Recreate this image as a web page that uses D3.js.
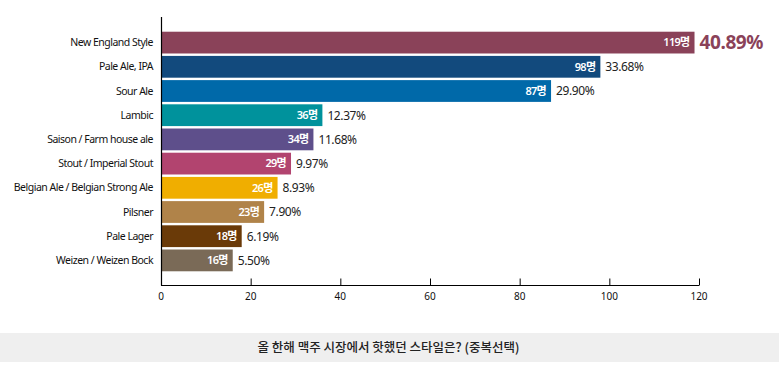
<!DOCTYPE html>
<html>
<head>
<meta charset="utf-8">
<script src="https://cdn.jsdelivr.net/npm/d3@7"></script>
<style>
  body { margin: 0; background: #fff; }
  text { font-family: "Noto Sans", "Noto Sans CJK KR", sans-serif; }
</style>
</head>
<body>
<div id="chart"></div>
<script>
var categories = ["New England Style", "Pale Ale, IPA", "Sour Ale", "Lambic", "Saison / Farm house ale",
                  "Stout / Imperial Stout", "Belgian Ale / Belgian Strong Ale", "Pilsner", "Pale Lager", "Weizen / Weizen Bock"];
var counts = [119, 98, 87, 36, 34, 29, 26, 23, 18, 16];
var percents = ["40.89%", "33.68%", "29.90%", "12.37%", "11.68%", "9.97%", "8.93%", "7.90%", "6.19%", "5.50%"];
var colors = ["#8a4259", "#124a7d", "#0069a9", "#00929c", "#5e4f8b", "#b2446f", "#f0ae00", "#b08349", "#6a3a08", "#7a6a57"];
var xTicks = [0, 20, 40, 60, 80, 100, 120];
var title = "올 한해 맥주 시장에서 핫했던 스타일은? (중복선택)";

var W = 779, H = 371;
var svg = d3.select("#chart").append("svg").attr("width", W).attr("height", H);

var x = d3.scaleLinear().domain([0, 120]).range([161, 699]);
var y = d3.scaleBand().domain(categories).range([30.5, 272.5]).paddingInner(0.1).paddingOuter(0.05);

// bars
svg.selectAll("rect.bar")
  .data(categories)
  .enter().append("rect")
  .attr("class", "bar")
  .attr("x", x(0))
  .attr("y", function (d) { return y(d); })
  .attr("width", function (d, i) { return x(counts[i]) - x(0); })
  .attr("height", y.bandwidth())
  .attr("fill", function (d, i) { return colors[i]; });

// count inside bar
svg.selectAll("text.cnt")
  .data(categories)
  .enter().append("text")
  .attr("x", function (d, i) { return x(counts[i]) - 5; })
  .attr("y", function (d) { return y(d) + y.bandwidth() / 2; })
  .attr("dy", "0.35em")
  .attr("text-anchor", "end")
  .attr("fill", "#fff")
  .style("font-size", "11px")
  .style("font-weight", "600")
  .style("letter-spacing", "-0.7px")
  .text(function (d, i) { return counts[i] + "명"; });

// percent after bar
svg.selectAll("text.pct")
  .data(categories)
  .enter().append("text")
  .attr("x", function (d, i) { return x(counts[i]) + 5; })
  .attr("y", function (d) { return y(d) + y.bandwidth() / 2; })
  .attr("dy", "0.36em")
  .attr("fill", function (d, i) { return i === 0 ? colors[0] : "#222"; })
  .style("font-size", function (d, i) { return i === 0 ? "19px" : "12px"; })
  .style("font-weight", function (d, i) { return i === 0 ? "bold" : "normal"; })
  .style("letter-spacing", "-0.4px")
  .text(function (d, i) { return percents[i]; });

// category labels
svg.selectAll("text.cat")
  .data(categories)
  .enter().append("text")
  .attr("x", 153)
  .attr("y", function (d) { return y(d) + y.bandwidth() / 2; })
  .attr("dy", "0.35em")
  .attr("text-anchor", "end")
  .attr("fill", "#111")
  .style("font-size", "10.5px")
  .style("letter-spacing", "-0.5px")
  .text(function (d) { return d; });

// y axis line
svg.append("line")
  .attr("x1", x(0) + 0.5).attr("x2", x(0) + 0.5)
  .attr("y1", 17).attr("y2", 285.5)
  .attr("stroke", "#000").attr("stroke-width", 1.2);

// x axis
var xAxis = d3.axisTop(x).tickValues(xTicks).tickSize(7).tickFormat("");
var gx = svg.append("g").attr("transform", "translate(0,285.5)").call(xAxis);
gx.select(".domain").attr("stroke", "#000").attr("stroke-width", 1.2).attr("d", "M" + x(0) + ",0H" + x(120));
gx.selectAll(".tick line").attr("stroke", "#000");

svg.selectAll("text.xt")
  .data(xTicks)
  .enter().append("text")
  .attr("x", function (d) { return x(d); })
  .attr("y", 300)
  .attr("text-anchor", "middle")
  .attr("fill", "#111")
  .style("font-size", "10px")
  .text(function (d) { return d; });

// title band
svg.append("rect")
  .attr("x", 0).attr("y", 333)
  .attr("width", W).attr("height", 29)
  .attr("fill", "#efefef");
svg.append("text")
  .attr("x", W / 2 - 1).attr("y", 348)
  .attr("dy", "0.35em")
  .attr("text-anchor", "middle")
  .attr("fill", "#222")
  .style("font-family", "'Noto Sans CJK KR', sans-serif")
  .style("font-size", "12.5px")
  .style("font-weight", "500")
  .text(title);
</script>
</body>
</html>
